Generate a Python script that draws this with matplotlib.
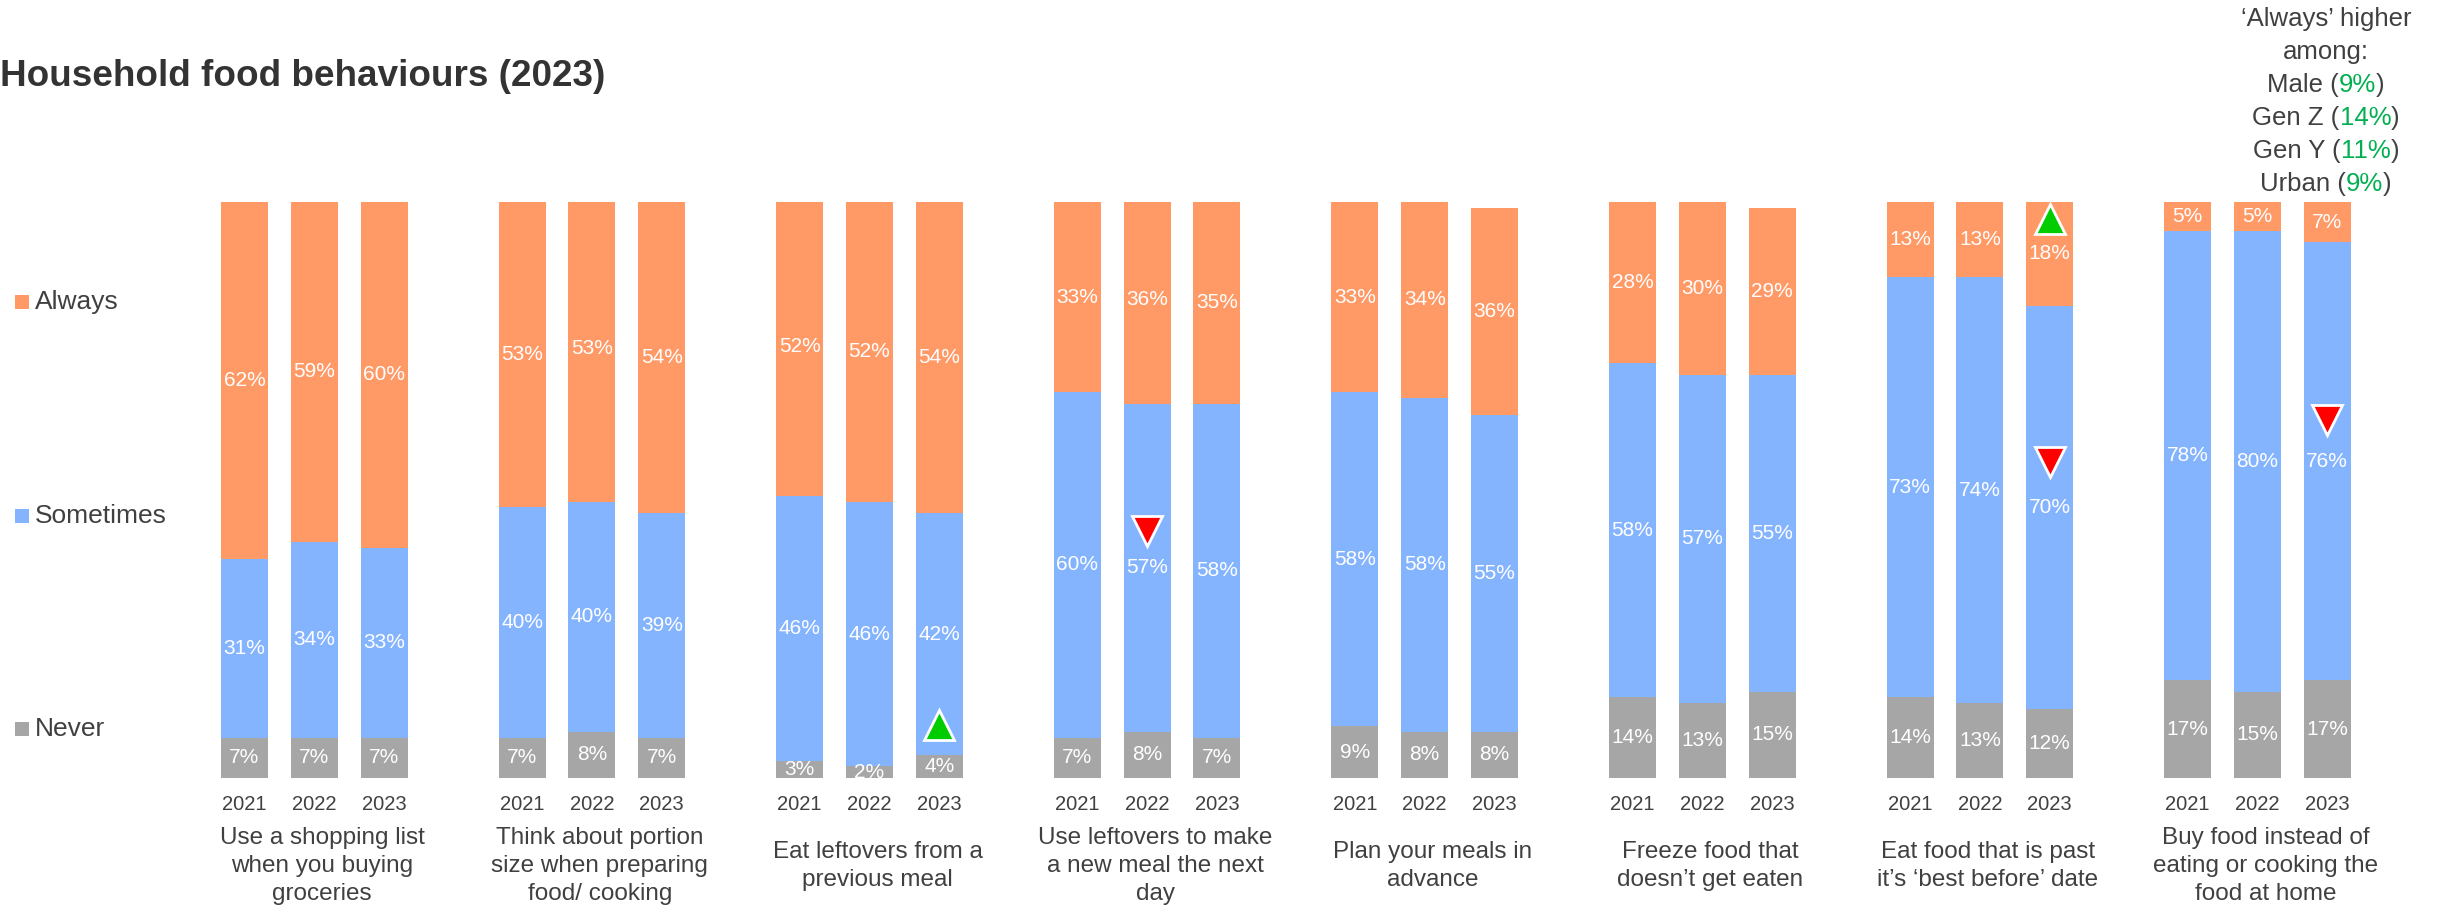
import matplotlib
matplotlib.use("Agg")
import matplotlib.pyplot as plt
from matplotlib.patches import Rectangle

plt.rcParams["font.family"] = ["Liberation Sans", "DejaVu Sans"]

# ---- data -------------------------------------------------------------
categories = [
    "Use a shopping list\nwhen you buying\ngroceries",
    "Think about portion\nsize when preparing\nfood/ cooking",
    "Eat leftovers from a\nprevious meal",
    "Use leftovers to make\na new meal the next\nday",
    "Plan your meals in\nadvance",
    "Freeze food that\ndoesn\u2019t get eaten",
    "Eat food that is past\nit\u2019s \u2018best before\u2019 date",
    "Buy food instead of\neating or cooking the\nfood at home",
]
years = ["2021", "2022", "2023"]

never = [[7, 7, 7], [7, 8, 7], [3, 2, 4], [7, 8, 7],
         [9, 8, 8], [14, 13, 15], [14, 13, 12], [17, 15, 17]]
sometimes = [[31, 34, 33], [40, 40, 39], [46, 46, 42], [60, 57, 58],
             [58, 58, 55], [58, 57, 55], [73, 74, 70], [78, 80, 76]]
always = [[62, 59, 60], [53, 53, 54], [52, 52, 54], [33, 36, 35],
          [33, 34, 36], [28, 30, 29], [13, 13, 18], [5, 5, 7]]

series_names = ["Always", "Sometimes", "Never"]

# significant changes: (group, year index, direction, height on the bar)
sig_markers = [
    (2, 2, "up", 9.2),
    (3, 1, "down", 42.8),
    (6, 2, "up", 97.0),
    (6, 2, "down", 54.9),
    (7, 2, "down", 62.2),
]

note_lines = [
    [("\u2018Always\u2019 higher", "dark")],
    [("among:", "dark")],
    [("Male (", "dark"), ("9%", "green"), (")", "dark")],
    [("Gen Z (", "dark"), ("14%", "green"), (")", "dark")],
    [("Gen Y (", "dark"), ("11%", "green"), (")", "dark")],
    [("Urban (", "dark"), ("9%", "green"), (")", "dark")],
]

# ---- styling ----------------------------------------------------------
W, H = 2438, 908
C_ALWAYS = "#FF9966"
C_SOMETIMES = "#85B4FF"
C_NEVER = "#A6A6A6"
C_TEXT = "#404040"
C_TITLE = "#333333"
C_GREEN_TXT = "#00B050"
colors = {"Always": C_ALWAYS, "Sometimes": C_SOMETIMES, "Never": C_NEVER}
txt_colors = {"dark": C_TEXT, "green": C_GREEN_TXT}

X0, GROUP_STEP, BAR_STEP, BAR_W = 244.5, 277.6, 69.8, 47
BASE_PX, TOP_PX = 778, 202

fig = plt.figure(figsize=(W / 100, H / 100), dpi=100)
fig.patch.set_facecolor("white")
ax = fig.add_axes([0, (H - BASE_PX) / H, 1, (BASE_PX - TOP_PX) / H])
ax.set_xlim(0, W)
ax.set_ylim(0, 100)
ax.axis("off")


def fx(px):
    return px / W


def fy(py):
    return 1 - py / H


# ---- bars -------------------------------------------------------------
for g in range(len(categories)):
    xs = [X0 + g * GROUP_STEP + j * BAR_STEP for j in range(len(years))]
    bottoms = [0] * len(years)
    for vals, name in ((never[g], "Never"), (sometimes[g], "Sometimes"),
                       (always[g], "Always")):
        ax.bar(xs, vals, width=BAR_W, bottom=bottoms, color=colors[name],
               edgecolor="none", zorder=2)
        for x, b, v in zip(xs, bottoms, vals):
            ax.text(x, b + v / 2, f"{v}%", ha="center", va="center",
                    color="white", fontsize=15, zorder=4)
        bottoms = [b + v for b, v in zip(bottoms, vals)]
    for x, yr in zip(xs, years):
        fig.text(fx(x), fy(805), yr, ha="center", va="center",
                 fontsize=14.5, color=C_TEXT)
    fig.text(fx(xs[1] + 8), fy(866), categories[g], ha="center",
             va="center", multialignment="center", fontsize=17.5,
             color=C_TEXT, linespacing=1.36)

# ---- significance triangles -------------------------------------------
for g, j, d, yv in sig_markers:
    x = X0 + g * GROUP_STEP + j * BAR_STEP
    ax.plot(x, yv, marker="^" if d == "up" else "v", markersize=22,
            markerfacecolor="#00CC00" if d == "up" else "#FF0000",
            markeredgecolor="white", markeredgewidth=2, zorder=5,
            linestyle="none")

# ---- title ------------------------------------------------------------
fig.text(0, fy(76), "Household food behaviours (2023)", ha="left",
         va="center", fontsize=26.6, fontweight="bold", color=C_TITLE)

# ---- legend -----------------------------------------------------------
legend_y = {"Always": 302, "Sometimes": 516, "Never": 729}
for name in series_names:
    yc = legend_y[name]
    fig.add_artist(Rectangle((fx(15), fy(yc + 7)), 14 / W, 14 / H,
                             transform=fig.transFigure,
                             facecolor=colors[name], edgecolor="none"))
    fig.text(fx(35), fy(yc), name, ha="left", va="center", fontsize=19,
             color=C_TEXT)

# ---- side note with coloured figures ----------------------------------
renderer = fig.canvas.get_renderer()
NOTE_CX, NOTE_Y0, NOTE_DY = 2326, 19, 33.0
for i, parts in enumerate(note_lines):
    yc = NOTE_Y0 + i * NOTE_DY
    pieces = []
    for s, c in parts:
        t = fig.text(0, fy(yc), s, ha="left", va="center", fontsize=18.5,
                     color=txt_colors[c])
        pieces.append(t)
    widths = [p.get_window_extent(renderer).width for p in pieces]
    x = NOTE_CX - sum(widths) / 2
    for p, w in zip(pieces, widths):
        p.set_x(fx(x))
        x += w

fig.savefig("out.png", dpi=100, facecolor="white")
